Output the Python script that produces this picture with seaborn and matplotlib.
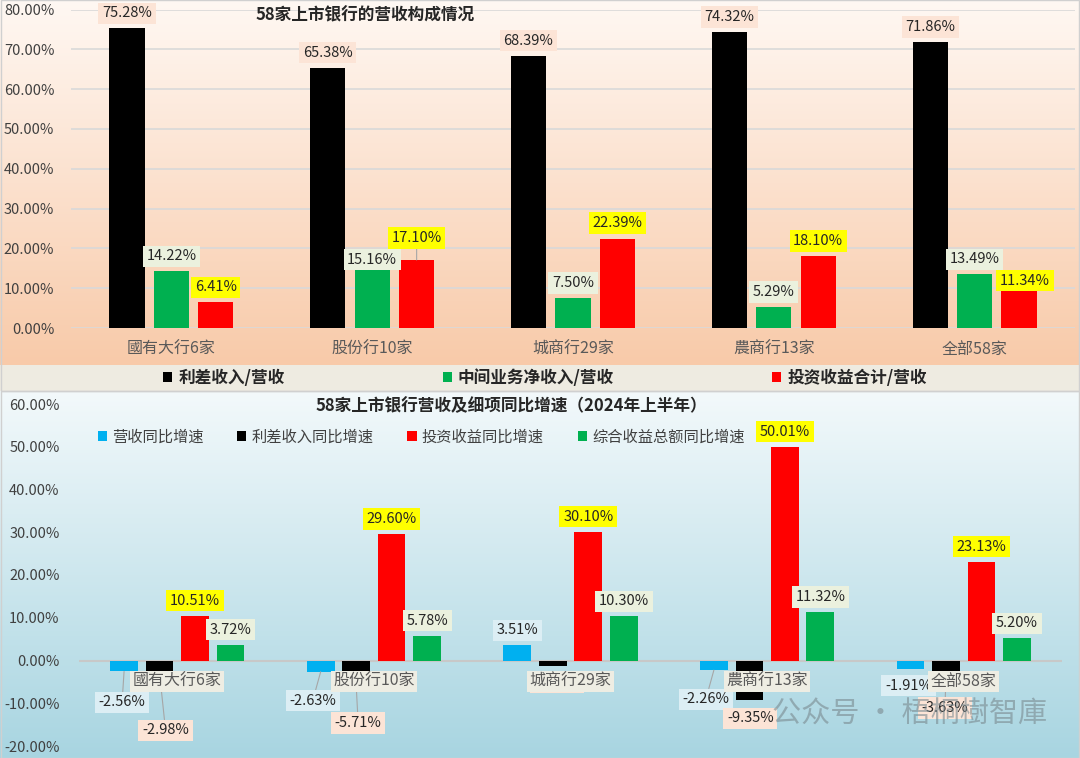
import numpy as np
import pandas as pd
import matplotlib
matplotlib.use("Agg")
import matplotlib.pyplot as plt
from matplotlib.ticker import FuncFormatter
from matplotlib.patches import Rectangle
import seaborn as sns

# 58家上市银行 营收构成 + 同比增速（2024H1）

categories = ['國有大行6家', '股份行10家', '城商行29家', '農商行13家', '全部58家']

# top chart: share of revenue (%)
top_series = ['利差收入/营收', '中间业务净收入/营收', '投资收益合计/营收']
nii_share = [75.28, 65.38, 68.39, 74.32, 71.86]
fee_share = [14.22, 15.16, 7.50, 5.29, 13.49]
inv_share = [6.41, 17.10, 22.39, 18.10, 11.34]

# bottom chart: yoy growth (%)
bot_series = ['营收同比增速', '利差收入同比增速', '投资收益同比增速', '综合收益总额同比增速']
rev_yoy = [-2.56, -2.63, 3.51, -2.26, -1.91]
nii_yoy = [-2.98, -5.71, -1.20, -9.35, -3.63]
inv_yoy = [10.51, 29.60, 30.10, 50.01, 23.13]
ci_yoy = [3.72, 5.78, 10.30, 11.32, 5.20]

top_vals = [nii_share, fee_share, inv_share]
bot_vals = [rev_yoy, nii_yoy, inv_yoy, ci_yoy]

top_colors = ['#000000', '#00B050', '#FF0000']
bot_colors = ['#00B0F0', '#000000', '#FF0000', '#00B050']
top_box = ['#FCE4D6', '#EBF1DE', '#FFFF00']
bot_box = ['#DCEEF4', '#FCE4D6', '#FFFF00', '#EBF1DE']

# label offsets in pixels (dx, dy) from bar end, roughly as placed in the original
top_off = [
    [(0, 15)] * 5,
    [(0, 15), (0, 8), (0, 15), (0, 15), (0, 15)],
    [(0, 15), (0, 22), (0, 16), (0, 15), (6, 2)],
]
bot_off = [
    [(-2, -31), (-8, -29), (0, 15), (-8, -29), (-2, -17)],
    [(6, -57), (2, -38), (4, -17), (1, -18), (-1, -32)],
    [(0, 15)] * 5,
    [(0, 15)] * 5,
]

top_df = pd.DataFrame({
    'cat': np.tile(categories, 3),
    'series': np.repeat(top_series, 5),
    'val': nii_share + fee_share + inv_share,
})
bot_df = pd.DataFrame({
    'cat': np.tile(categories, 4),
    'series': np.repeat(bot_series, 5),
    'val': rev_yoy + nii_yoy + inv_yoy + ci_yoy,
})

sns.set_style('white')
plt.rcParams['font.family'] = ['Noto Sans CJK SC', 'DejaVu Sans']

W, H = 1080, 758
fig = plt.figure(figsize=(W / 100, H / 100), dpi=100)

# background gradients (peach on top, legend band, light blue below)
bg = fig.add_axes([0, 0, 1, 1], zorder=-10)
img = np.zeros((H, 1, 3))
def hexrgb(h):
    return np.array([int(h[i:i + 2], 16) / 255 for i in (1, 3, 5)])
t = np.linspace(0, 1, 365)[:, None]
img[0:365, 0] = (1 - t) * hexrgb('#FFF8F3') + t * hexrgb('#F8CAA9')
img[365:391, 0] = hexrgb('#EEEBE1')
t = np.linspace(0, 1, H - 391)[:, None]
img[391:, 0] = (1 - t) * hexrgb('#F3F9FB') + t * hexrgb('#A8D5E1')
bg.imshow(img, aspect='auto', extent=[0, 1, 0, 1])
bg.set_axis_off()
for (y0, y1) in [(0, 391), (391, 758)]:
    bg.add_patch(Rectangle((1 / W, 1 - y1 / H), 1 - 2 / W, (y1 - y0) / H,
                           fill=False, ec='#D0D0D0', lw=1, transform=fig.transFigure))

pct = FuncFormatter(lambda v, p: f'{v:.2f}%')

# ---------------- top chart ----------------
ax1 = fig.add_axes([71 / W, 1 - 328 / H, (1075 - 71) / W, (328 - 9.5) / H])
ax1.patch.set_alpha(0)
sns.barplot(data=top_df, x='cat', y='val', hue='series', palette=top_colors,
            width=0.664, gap=0.21, saturation=1, linewidth=0, ax=ax1, zorder=2)
leg = ax1.get_legend()
h1 = leg.legend_handles
l1 = [tx.get_text() for tx in leg.get_texts()]
leg.remove()
ax1.set_ylim(0, 80)
ax1.set_xlim(-0.5, 4.5)
ax1.set_yticks(range(0, 81, 10))
ax1.yaxis.set_major_formatter(pct)
ax1.grid(axis='y', color='#D9D9D9', lw=1.2, zorder=0)
ax1.set_axisbelow(True)
sns.despine(ax=ax1, left=True, bottom=True)
ax1.tick_params(axis='y', length=0, pad=12, labelsize=10.5, labelcolor='#404040')
ax1.tick_params(axis='x', length=0, pad=9, labelsize=11.5, labelcolor='#595959')
ax1.set_xlabel('')
ax1.set_ylabel('')

for i, cont in enumerate(ax1.containers):
    for j, bar in enumerate(cont):
        x = bar.get_x() + bar.get_width() / 2
        dx, dy = top_off[i][j]
        ax1.annotate(f'{top_vals[i][j]:.2f}%', (x, top_vals[i][j]), xytext=(dx, dy),
                     textcoords='offset pixels', ha='center', va='center',
                     fontsize=10.5, color='#262626', zorder=5,
                     bbox=dict(boxstyle='square,pad=0.25', fc=top_box[i], ec='none'),
                     arrowprops=dict(arrowstyle='-', color='#A6A6A6', lw=0.8,
                                     shrinkA=0, shrinkB=0) if dy > 18 else None)

fig.text(365 / W, 1 - 15 / H, '58家上市银行的营收构成情况', ha='center', va='center',
         fontsize=12, fontweight='bold', color='#262626')
fig.legend(h1, l1, loc='center', bbox_to_anchor=(545 / W, 1 - 378 / H), ncol=3,
           frameon=False, prop={'size': 12, 'weight': 'bold'}, labelcolor='#262626',
           handlelength=0.55, handleheight=0.55, handletextpad=0.35, columnspacing=9.5,
           borderpad=0)

# ---------------- bottom chart ----------------
ax2 = fig.add_axes([79 / W, 1 - 746 / H, (1062 - 79) / W, (746 - 404) / H])
ax2.patch.set_alpha(0)
sns.barplot(data=bot_df, x='cat', y='val', hue='series', palette=bot_colors,
            width=0.722, gap=0.22, saturation=1, linewidth=0, ax=ax2, zorder=2)
leg = ax2.get_legend()
h2 = leg.legend_handles
l2 = [tx.get_text() for tx in leg.get_texts()]
leg.remove()
ax2.set_ylim(-20, 60)
ax2.set_xlim(-0.5, 4.5)
ax2.set_yticks(range(-20, 61, 10))
ax2.yaxis.set_major_formatter(pct)
ax2.axhline(0, color='#C8C8C8', lw=1.5, zorder=1)
sns.despine(ax=ax2, left=True, bottom=True)
ax2.tick_params(axis='y', length=0, pad=14, labelsize=10.5, labelcolor='#404040')
ax2.set_xticks([])
ax2.set_xlabel('')
ax2.set_ylabel('')

for i, cont in enumerate(ax2.containers):
    for j, bar in enumerate(cont):
        x = bar.get_x() + bar.get_width() / 2
        v = bot_vals[i][j]
        dx, dy = bot_off[i][j]
        ax2.annotate(f'{v:.2f}%', (x, v), xytext=(dx, dy),
                     textcoords='offset pixels', ha='center', va='center',
                     fontsize=10.5, color='#262626', zorder=3,
                     bbox=dict(boxstyle='square,pad=0.25', fc=bot_box[i], ec='none'),
                     arrowprops=dict(arrowstyle='-', color='#A6A6A6', lw=0.8,
                                     shrinkA=0, shrinkB=0) if dy < -20 else None)

for k, c in enumerate(categories):
    ax2.annotate(c, (k, 0), xytext=(0, -21), textcoords='offset pixels',
                 ha='center', va='center', fontsize=11.5, color='#595959', zorder=6,
                 bbox=dict(boxstyle='square,pad=0.15', fc='#EEEDE3', ec='none'))

fig.text(511 / W, 1 - 406 / H, '58家上市银行营收及细项同比增速（2024年上半年）',
         ha='center', va='center', fontsize=12, fontweight='bold', color='#262626')
ax2.legend(h2, l2, loc='center left', bbox_to_anchor=(90 / W, 1 - 437 / H),
           bbox_transform=fig.transFigure, ncol=4, frameon=False, fontsize=11,
           labelcolor='#404040', handlelength=0.6, handleheight=0.6,
           handletextpad=0.35, columnspacing=2.2, borderpad=0)

# watermark
fig.text(910 / W, 1 - 715 / H, '公众号 · 梧桐樹智庫', ha='center', va='center',
         fontsize=21, color='#7A8A90', alpha=0.6, zorder=10)

fig.savefig('out.png', dpi=100)
